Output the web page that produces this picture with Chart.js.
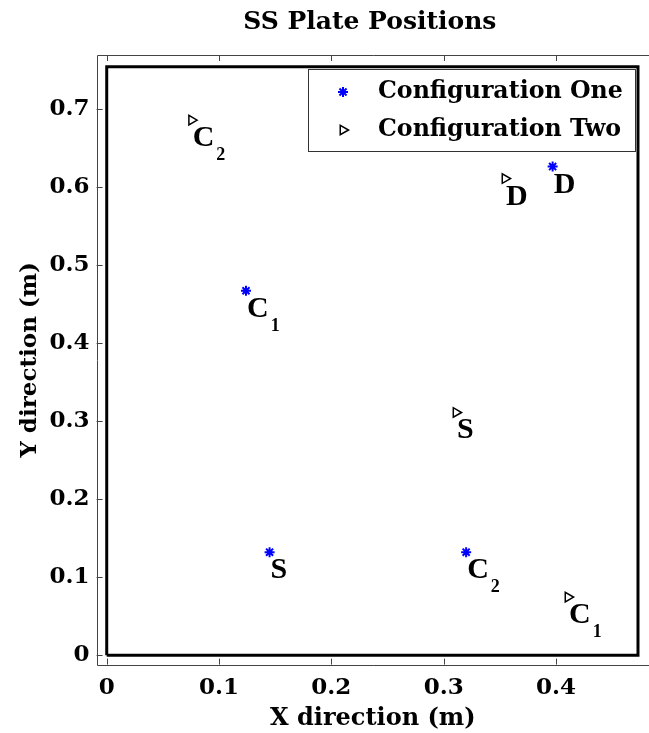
<!DOCTYPE html>
<html>
<head>
<meta charset="utf-8">
<title>SS Plate Positions</title>
<script src="https://cdn.jsdelivr.net/npm/chart.js@4.4.0/dist/chart.umd.min.js"></script>
<style>
  html, body { margin: 0; padding: 0; background: #fff; }
  #wrap { width: 649px; height: 733px; }
</style>
</head>
<body>
<div id="wrap"><canvas id="myChart"></canvas></div>
<script>
// configuration one (blue stars)
const oneX = [0.124, 0.145, 0.320, 0.397];
const oneY = [0.467, 0.132, 0.132, 0.626];
const oneName = ['C', 'S', 'C', 'D'];
const oneSub = ['1', '', '2', ''];

// configuration two (black triangles)
const twoX = [0.0756, 0.3546, 0.311, 0.4107];
const twoY = [0.6855, 0.6107, 0.311, 0.0745];
const twoName = ['C', 'D', 'S', 'C'];
const twoSub = ['2', '', '', '1'];

// plate outline
const plateX = [0, 0.473, 0.473, 0, 0];
const plateY = [0, 0, 0.754, 0.754, 0];

const xTicks = [0, 0.1, 0.2, 0.3, 0.4];
const yTicks = [0, 0.1, 0.2, 0.3, 0.4, 0.5, 0.6, 0.7];

const serif = 'DejaVu Serif';
const titleText = 'SS Plate Positions';
const toPts = (xs, ys) => xs.map((v, i) => ({ x: v, y: ys[i] }));

const frame = {
  id: 'frame',
  afterDraw(chart) {
    const { ctx, chartArea: a, scales: { x, y } } = chart;
    ctx.save();
    // title, centred over the axes
    ctx.fillStyle = '#000';
    ctx.font = 'bold 25px "' + serif + '"';
    ctx.textAlign = 'center';
    ctx.textBaseline = 'middle';
    ctx.fillText(titleText, (a.left + a.right) / 2 - 3, 22);

    // thin axes box (right edge falls off the canvas)
    ctx.strokeStyle = '#444';
    ctx.lineWidth = 1;
    ctx.beginPath();
    ctx.moveTo(a.right + 5, Math.round(a.top) + 0.5);
    ctx.lineTo(Math.round(a.left) + 0.5, Math.round(a.top) + 0.5);
    ctx.lineTo(Math.round(a.left) + 0.5, Math.round(a.bottom) + 0.5);
    ctx.lineTo(a.right + 5, Math.round(a.bottom) + 0.5);
    // inward ticks
    xTicks.forEach(v => {
      const px = Math.round(x.getPixelForValue(v)) + 0.5;
      ctx.moveTo(px, a.bottom); ctx.lineTo(px, a.bottom - 6);
      ctx.moveTo(px, a.top); ctx.lineTo(px, a.top + 6);
    });
    yTicks.forEach(v => {
      const py = Math.round(y.getPixelForValue(v)) + 0.5;
      ctx.moveTo(a.left, py); ctx.lineTo(a.left + 6, py);
    });
    ctx.stroke();

    // point labels with subscripts
    const labelSets = [[oneName, oneSub], [twoName, twoSub]];
    labelSets.forEach(([names, subs], di) => {
      chart.getDatasetMeta(di).data.forEach((pt, j) => {
        const bx = pt.x + 1, by = pt.y + 26;
        ctx.fillStyle = '#000';
        ctx.textBaseline = 'alphabetic';
        ctx.textAlign = 'left';
        ctx.font = 'bold 30px "Liberation Serif"';
        ctx.fillText(names[j], bx, by);
        if (subs[j]) {
          const w = ctx.measureText(names[j]).width;
          ctx.font = 'bold 18px "Liberation Serif"';
          ctx.fillText(subs[j], bx + w + 2, by + 14);
        }
      });
    });

    // legend box
    const lx = 308, ly = 69, lw = 327, lh = 82;
    ctx.fillStyle = '#fff';
    ctx.fillRect(lx, ly, lw, lh);
    ctx.strokeStyle = '#333';
    ctx.lineWidth = 1;
    ctx.strokeRect(lx + 0.5, ly + 0.5, lw, lh);
    const rows = [92, 130];
    chart.data.datasets.slice(0, 2).forEach((ds, i) => {
      ctx.strokeStyle = ds.borderColor;
      ctx.fillStyle = ds.backgroundColor;
      ctx.lineWidth = ds.borderWidth;
      Chart.helpers.drawPoint(ctx, {
        pointStyle: ds.pointStyle, radius: ds.pointRadius,
        rotation: ds.pointRotation || 0, borderWidth: ds.borderWidth
      }, 343, rows[i]);
      ctx.fillStyle = '#000';
      ctx.font = 'bold 23.7px "' + serif + '"';
      ctx.textAlign = 'left';
      ctx.textBaseline = 'middle';
      ctx.fillText(ds.label, 378, rows[i]);
    });
    ctx.restore();
  }
};

const ctx = document.getElementById('myChart');

const config = {
  type: 'scatter',
  plugins: [frame],
  data: {
    datasets: [
      {
        label: 'Configuration One',
        data: toPts(oneX, oneY),
        pointStyle: 'star',
        pointRadius: 5,
        borderWidth: 2,
        borderColor: '#0000ff',
        backgroundColor: '#0000ff'
      },
      {
        label: 'Configuration Two',
        data: toPts(twoX, twoY),
        pointStyle: 'triangle',
        pointRotation: 90,
        pointRadius: 5.5,
        borderWidth: 1.5,
        borderColor: '#000',
        backgroundColor: 'rgba(0,0,0,0)'
      },
      {
        label: 'plate',
        data: toPts(plateX, plateY),
        showLine: true,
        pointRadius: 0,
        borderWidth: 3,
        borderColor: '#000',
        fill: false
      }
    ]
  },
  options: {
    responsive: true,
    maintainAspectRatio: false,
    animation: false,
    layout: { autoPadding: false, padding: { top: 55, left: 0, right: 0, bottom: 0 } },
    plugins: {
      legend: { display: false },
      tooltip: { enabled: false },
      title: { display: false }
    },
    scales: {
      x: {
        type: 'linear',
        min: -0.009,
        max: 0.4828,
        grid: { display: false, drawTicks: false },
        border: { display: false },
        afterBuildTicks: (s) => { s.ticks = xTicks.map(v => ({ value: v })) },
        ticks: {
          color: '#000', padding: 9.5, maxRotation: 0,
          font: { family: serif, size: 23, weight: 'bold' },
          callback: (v) => String(v)
        },
        title: {
          display: true, text: 'X direction (m)', color: '#000',
          font: { family: serif, size: 24, weight: 'bold' },
          padding: { top: -7, bottom: 0 }
        }
      },
      y: {
        type: 'linear',
        min: -0.012,
        max: 0.769,
        grid: { display: false, drawTicks: false },
        border: { display: false },
        afterBuildTicks: (s) => { s.ticks = yTicks.map(v => ({ value: v })) },
        ticks: {
          color: '#000', padding: 7,
          font: { family: serif, size: 23, weight: 'bold' },
          callback: (v) => String(v)
        },
        title: {
          display: true, text: 'Y direction (m)', color: '#000',
          font: { family: serif, size: 23, weight: 'bold' },
          padding: { top: 16, bottom: -1 }
        }
      }
    }
  }
};

const myChart = new Chart(ctx, config);
</script>
</body>
</html>
